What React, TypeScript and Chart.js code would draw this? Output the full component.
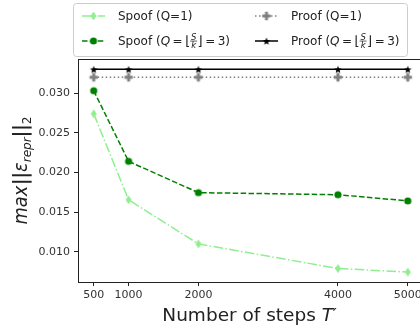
import React, { useEffect, useRef } from "react";
import { Chart, registerables } from "chart.js";

Chart.register(...registerables);

const STEPS = [500, 1000, 2000, 4000, 5000];
const SPOOF_Q1 = [0.0274, 0.01655, 0.0110, 0.0079, 0.00745];
const SPOOF_Q3 = [0.0303, 0.0214, 0.01746, 0.0172, 0.01642];
const PROOF_Q1 = [0.032, 0.032, 0.032, 0.032, 0.032];
const PROOF_Q3 = [0.033, 0.033, 0.033, 0.033, 0.033];
const X_TICKS = [500, 1000, 2000, 4000, 5000];
const Y_TICKS = [0.01, 0.015, 0.02, 0.025, 0.03];

const FONT = "'DejaVu Sans', sans-serif";
const LIGHT_GREEN = "#90ee90";
const GREEN = "#008000";
const GRAY = "#808080";
const BLACK = "#000000";

function makeMarker(kind: string, color: string): HTMLCanvasElement {
  const c = document.createElement("canvas");
  const s = 12;
  c.width = s;
  c.height = s;
  const g = c.getContext("2d")!;
  g.fillStyle = color;
  g.strokeStyle = color;
  const m = s / 2;
  g.beginPath();
  if (kind === "diamond") {
    g.moveTo(m, m - 4.5);
    g.lineTo(m + 3, m);
    g.lineTo(m, m + 4.5);
    g.lineTo(m - 3, m);
    g.closePath();
    g.fill();
  } else if (kind === "circle") {
    g.arc(m, m, 3.6, 0, Math.PI * 2);
    g.fill();
  } else if (kind === "plus") {
    const a = 4.2, b = 1.5;
    g.moveTo(m - b, m - a);
    g.lineTo(m + b, m - a);
    g.lineTo(m + b, m - b);
    g.lineTo(m + a, m - b);
    g.lineTo(m + a, m + b);
    g.lineTo(m + b, m + b);
    g.lineTo(m + b, m + a);
    g.lineTo(m - b, m + a);
    g.lineTo(m - b, m + b);
    g.lineTo(m - a, m + b);
    g.lineTo(m - a, m - b);
    g.lineTo(m - b, m - b);
    g.closePath();
    g.fill();
  } else if (kind === "star") {
    const R = 4, r = 1.7;
    for (let i = 0; i < 10; i++) {
      const ang = -Math.PI / 2 + (i * Math.PI) / 5;
      const rad = i % 2 === 0 ? R : r;
      const px = m + rad * Math.cos(ang);
      const py = m + 0.5 + rad * Math.sin(ang);
      if (i === 0) g.moveTo(px, py);
      else g.lineTo(px, py);
    }
    g.closePath();
    g.fill();
  }
  return c;
}

type Part = { t?: string; font?: string; dy?: number; frac?: [string, string]; sp?: number };

function drawParts(ctx: CanvasRenderingContext2D, x: number, y: number, parts: Part[], measureOnly = false) {
  let cx = x;
  for (const p of parts) {
    if (p.sp) {
      cx += p.sp;
    } else if (p.frac) {
      const f = "italic 8.5px " + FONT;
      ctx.font = f;
      const w1 = ctx.measureText(p.frac[0]).width;
      const w2 = ctx.measureText(p.frac[1]).width;
      const w = Math.max(w1, w2) + 1.5;
      const axis = y - 4.2;
      if (!measureOnly) {
        ctx.textAlign = "left";
        ctx.fillText(p.frac[0], cx + (w - w1) / 2, axis - 1.3);
        ctx.fillText(p.frac[1], cx + (w - w2) / 2, axis + 7.2);
        ctx.fillRect(cx, axis - 0.4, w, 0.7);
      }
      cx += w + 0.5;
    } else {
      ctx.font = p.font || "12px " + FONT;
      ctx.textAlign = "left";
      if (!measureOnly) ctx.fillText(p.t || "", cx, y + (p.dy || 0));
      cx += ctx.measureText(p.t || "").width;
    }
  }
  return cx - x;
}

export default function App() {
  const ref = useRef<HTMLCanvasElement | null>(null);

  useEffect(() => {
    const canvas = ref.current!;
    const mk = {
      diamond: makeMarker("diamond", LIGHT_GREEN),
      circle: makeMarker("circle", GREEN),
      plus: makeMarker("plus", GRAY),
      star: makeMarker("star", BLACK),
    };

    const pts = (arr: number[]) => STEPS.map((x, i) => ({ x, y: arr[i] }));

    const normal = "12px " + FONT;
    const ital = "italic 12px " + FONT;
    const br = "13px " + FONT;
    const qParts = (lead: string): Part[] => [
      { t: lead },
      { t: "Q", font: ital },
      { sp: 2.5 },
      { t: "=", font: normal },
      { sp: 2.5 },
      { t: "⌊", font: br },
      { frac: ["S", "k"] },
      { t: "⌋", font: br },
      { sp: 2.5 },
      { t: "=", font: normal },
      { sp: 2.5 },
      { t: "3)", font: normal },
    ];
    const legendEntries = [
      { col: 0, row: 0, color: LIGHT_GREEN, dash: [9.6, 2.4, 1.5, 2.4], marker: mk.diamond, parts: [{ t: "Spoof (Q=1)" }] as Part[] },
      { col: 1, row: 0, color: GRAY, dash: [1.5, 2.5], marker: mk.plus, parts: [{ t: "Proof (Q=1)" }] as Part[] },
      { col: 0, row: 1, color: GREEN, dash: [5.5, 2.4], marker: mk.circle, parts: qParts("Spoof (") },
      { col: 1, row: 1, color: BLACK, dash: [], marker: mk.star, parts: qParts("Proof (") },
    ];

    const decor = {
      id: "decor",
      afterDraw(chart: any) {
        const ctx: CanvasRenderingContext2D = chart.ctx;
        const a = chart.chartArea;
        ctx.save();
        // frame (top and right spines)
        ctx.strokeStyle = "#222";
        ctx.lineWidth = 1;
        ctx.beginPath();
        ctx.moveTo(Math.round(a.left) + 0.5, Math.round(a.top) + 0.5);
        ctx.lineTo(Math.round(a.right) + 0.5, Math.round(a.top) + 0.5);
        ctx.lineTo(Math.round(a.right) + 0.5, Math.round(a.bottom) + 0.5);
        ctx.stroke();

        // legend box
        ctx.fillStyle = "rgba(255,255,255,0.8)";
        ctx.strokeStyle = "#cccccc";
        ctx.beginPath();
        (ctx as any).roundRect(73.5, 3.5, 334, 53, 3);
        ctx.fill();
        ctx.stroke();

        const colX = [82, 255];
        const rowY = [16, 41];
        for (const e of legendEntries) {
          const x0 = colX[e.col];
          const y = rowY[e.row];
          ctx.strokeStyle = e.color;
          ctx.lineWidth = 1.5;
          ctx.setLineDash(e.dash);
          ctx.beginPath();
          ctx.moveTo(x0, y);
          ctx.lineTo(x0 + 23, y);
          ctx.stroke();
          ctx.setLineDash([]);
          ctx.drawImage(e.marker, x0 + 11.5 - 6, y - 6);
          ctx.fillStyle = "#222";
          ctx.textBaseline = "alphabetic";
          drawParts(ctx, x0 + 36, y + 4.3, e.parts);
        }

        // x title
        ctx.fillStyle = "#222";
        ctx.textBaseline = "alphabetic";
        const xparts: Part[] = [
          { t: "Number of steps ", font: "18.5px " + FONT },
          { t: "T", font: "italic 18.5px " + FONT },
          { t: "′", font: "italic 16px " + FONT, dy: -1 },
        ];
        const xw = drawParts(ctx, 0, 0, xparts, true);
        drawParts(ctx, 162 + (175 - xw) / 2, 320.5, xparts);

        // y title
        const yparts: Part[] = [
          { t: "max", font: "italic 19px " + FONT },
          { sp: 1 },
          { t: "||", font: "bold 19px " + FONT },
          { t: "ε", font: "italic 19px " + FONT },
          { t: "repr", font: "italic 13px " + FONT, dy: 4 },
          { t: "||", font: "bold 19px " + FONT },
          { t: "2", font: "13px " + FONT, dy: 4 },
        ];
        const yw = drawParts(ctx, 0, 0, yparts, true);
        const target = 108;
        const sc = target / yw;
        const cy = (a.top + a.bottom) / 2;
        ctx.translate(27, cy + target / 2);
        ctx.rotate(-Math.PI / 2);
        ctx.scale(sc, 1);
        drawParts(ctx, 0, 0, yparts);
        ctx.restore();
      },
    };

    const chart = new Chart(canvas, {
      type: "line",
      data: {
        datasets: [
          {
            label: "Spoof (Q=1)",
            data: pts(SPOOF_Q1),
            borderColor: LIGHT_GREEN,
            backgroundColor: LIGHT_GREEN,
            borderWidth: 1.5,
            borderDash: [9.6, 2.4, 1.5, 2.4],
            pointStyle: mk.diamond as any,
            pointRadius: 5,
          },
          {
            label: "Spoof (Q=3)",
            data: pts(SPOOF_Q3),
            borderColor: GREEN,
            backgroundColor: GREEN,
            borderWidth: 1.5,
            borderDash: [5.5, 2.4],
            pointStyle: mk.circle as any,
            pointRadius: 5,
          },
          {
            label: "Proof (Q=1)",
            data: pts(PROOF_Q1),
            borderColor: GRAY,
            backgroundColor: GRAY,
            borderWidth: 1.5,
            borderDash: [1.5, 2.5],
            pointStyle: mk.plus as any,
            pointRadius: 5,
          },
          {
            label: "Proof (Q=3)",
            data: pts(PROOF_Q3),
            borderColor: BLACK,
            backgroundColor: BLACK,
            borderWidth: 1.5,
            pointStyle: mk.star as any,
            pointRadius: 5,
          },
        ],
      },
      options: {
        animation: false,
        responsive: false,
        maintainAspectRatio: false,
        layout: { padding: { left: 0, top: 59, right: 6, bottom: 0 } },
        plugins: { legend: { display: false }, tooltip: { enabled: false } },
        elements: { line: { tension: 0 } },
        scales: {
          x: {
            type: "linear",
            min: 275,
            max: 5225,
            afterBuildTicks: (s: any) => {
              s.ticks = X_TICKS.map((v) => ({ value: v }));
            },
            afterFit: (s: any) => {
              s.height = 47;
            },
            grid: { display: true, drawOnChartArea: false, tickLength: 4, color: "#222" },
            border: { display: true, color: "#222", width: 1 },
            ticks: {
              padding: 3,
              maxRotation: 0,
              autoSkip: false,
              color: "#333",
              font: { family: FONT, size: 11 },
              callback: (v: any) => String(v),
            },
          },
          y: {
            type: "linear",
            min: 0.0062,
            max: 0.0343,
            afterBuildTicks: (s: any) => {
              s.ticks = Y_TICKS.map((v) => ({ value: v }));
            },
            afterFit: (s: any) => {
              s.width = 78;
            },
            grid: { display: true, drawOnChartArea: false, tickLength: 4, color: "#222" },
            border: { display: true, color: "#222", width: 1 },
            ticks: {
              padding: 4,
              autoSkip: false,
              color: "#333",
              font: { family: FONT, size: 11 },
              callback: (v: any) => Number(v).toFixed(3),
            },
          },
        },
      },
      plugins: [decor],
    } as any);

    return () => chart.destroy();
  }, []);

  return (
    <div style={{ position: "fixed", left: 0, top: 0, width: 420, height: 329, overflow: "hidden", background: "#fff" }}>
      <canvas ref={ref} width={430} height={329} style={{ width: 430, height: 329, display: "block" }} />
    </div>
  );
}
